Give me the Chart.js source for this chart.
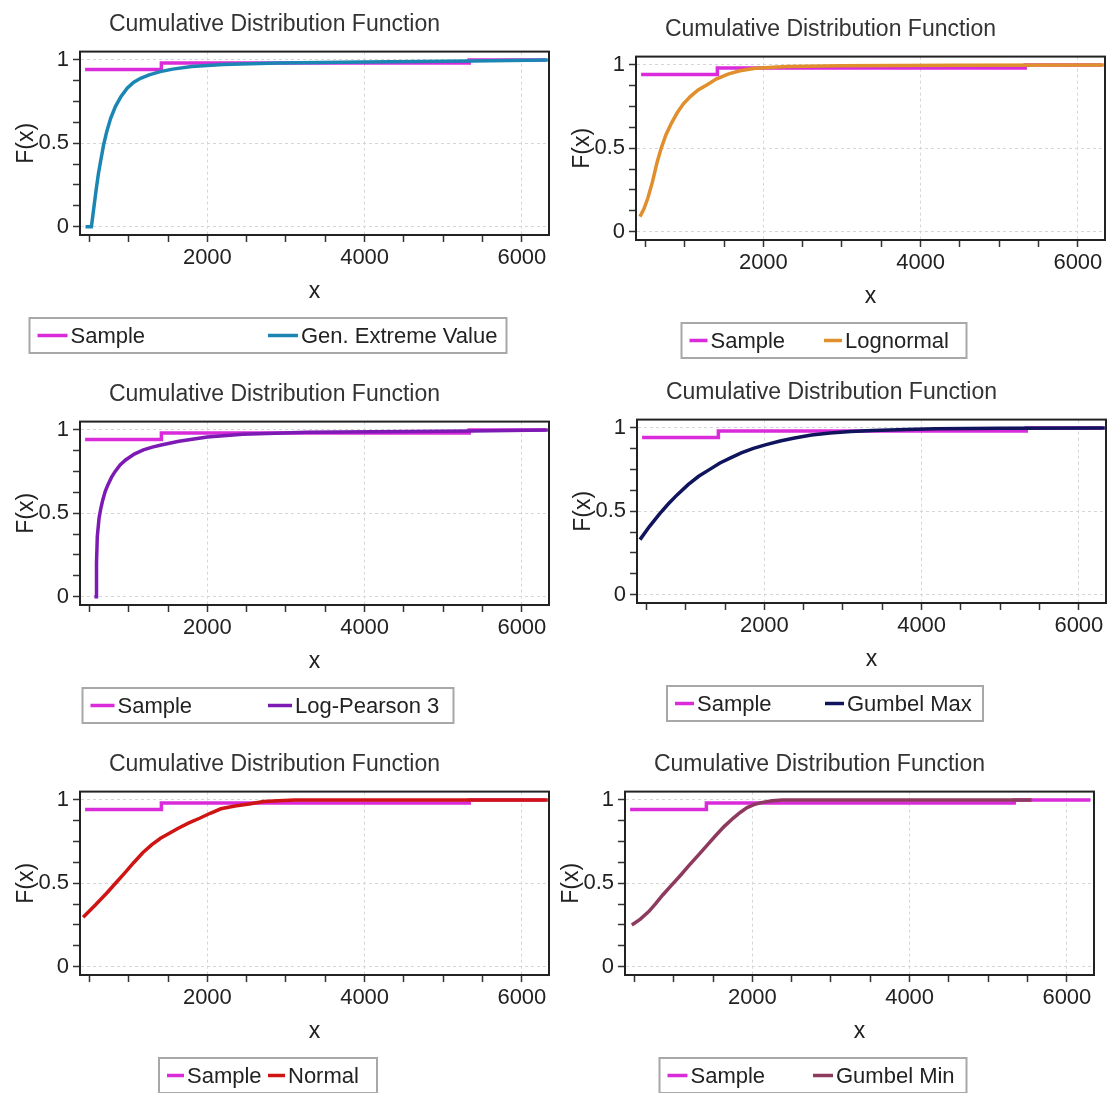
<!DOCTYPE html>
<html>
<head>
<meta charset="utf-8">
<script src="https://cdn.jsdelivr.net/npm/chart.js@4.4.1/dist/chart.umd.min.js"></script>
<style>
    html, body { margin: 0; padding: 0; background: #fff; }
    body { position: relative; width: 1110px; height: 1093px; overflow: hidden; }
    canvas.panel { position: absolute; }
</style>
</head>
<body>
<canvas id="gevChart" class="panel" width="552" height="360" style="left:0px;top:0px"></canvas>
<canvas id="lognormalChart" class="panel" width="552" height="360" style="left:556px;top:5px"></canvas>
<canvas id="lp3Chart" class="panel" width="552" height="360" style="left:0px;top:370px"></canvas>
<canvas id="gumbelMaxChart" class="panel" width="552" height="360" style="left:557px;top:368px"></canvas>
<canvas id="normalChart" class="panel" width="552" height="360" style="left:0px;top:740px"></canvas>
<canvas id="gumbelMinChart" class="panel" width="552" height="360" style="left:545px;top:740px"></canvas>
<script>
// Sample (empirical) CDF - step points
const sampleX = [445, 1415, 5330, 6300];
const sampleY = [0.942, 0.982, 1.0, 1.0];

// Fitted CDFs
const gevX = [450, 525, 555, 585, 615, 645, 680, 720, 770, 830, 900, 980, 1060, 1150, 1260, 1400, 1560, 1800, 2200, 2900, 4000, 5350, 6330];
const gevY = [0, 0, 0.11, 0.22, 0.32, 0.40, 0.49, 0.57, 0.65, 0.72, 0.78, 0.83, 0.865, 0.89, 0.91, 0.93, 0.945, 0.96, 0.972, 0.982, 0.988, 0.993, 1.0];

const lognormalX = [430, 480, 530, 590, 645, 700, 760, 830, 900, 980, 1070, 1170, 1280, 1400, 1550, 1700, 1900, 2300, 3000, 4500, 6330];
const lognormalY = [0.09, 0.135, 0.20, 0.30, 0.41, 0.50, 0.58, 0.65, 0.71, 0.765, 0.81, 0.85, 0.88, 0.915, 0.945, 0.965, 0.98, 0.99, 0.995, 0.998, 1.0];

const lp3X = [563, 585, 590, 600, 622, 645, 667, 700, 734, 780, 825, 890, 960, 1070, 1186, 1300, 1412, 1638, 2000, 2450, 3270, 5350, 6330];
const lp3Y = [0, 0, 0.2, 0.36, 0.47, 0.53, 0.575, 0.63, 0.67, 0.715, 0.75, 0.79, 0.82, 0.855, 0.88, 0.897, 0.91, 0.932, 0.958, 0.974, 0.986, 0.994, 1.0];

const gumbelMaxX = [418, 540, 667, 780, 893, 1030, 1164, 1300, 1435, 1570, 1706, 1860, 2023, 2200, 2384, 2600, 2836, 3100, 3379, 3800, 4180, 5000, 6330];
const gumbelMaxY = [0.33, 0.41, 0.485, 0.545, 0.60, 0.66, 0.71, 0.75, 0.79, 0.82, 0.85, 0.877, 0.90, 0.922, 0.94, 0.957, 0.97, 0.978, 0.985, 0.991, 0.995, 0.998, 1.0];

const normalX = [420, 575, 727, 840, 953, 1065, 1178, 1290, 1404, 1517, 1630, 1765, 1901, 2036, 2172, 2350, 2533, 2713, 2900, 3120, 6330];
const normalY = [0.297, 0.37, 0.445, 0.505, 0.564, 0.625, 0.683, 0.73, 0.77, 0.80, 0.83, 0.862, 0.89, 0.92, 0.947, 0.964, 0.976, 0.99, 0.995, 1.0, 1.0];

const gumbelMinX = [467, 575, 682, 770, 860, 970, 1084, 1195, 1307, 1420, 1531, 1640, 1754, 1845, 1933, 2020, 2112, 2250, 2380, 5550];
const gumbelMinY = [0.25, 0.285, 0.33, 0.378, 0.43, 0.488, 0.547, 0.607, 0.666, 0.726, 0.785, 0.84, 0.89, 0.925, 0.954, 0.972, 0.984, 0.995, 1.0, 1.0];

// Axis ticks (minor every 500 / 0.125, labels on the major ones)
const xTicks = [500, 1000, 1500, 2000, 2500, 3000, 3500, 4000, 4500, 5000, 5500, 6000];
const xLabelled = [2000, 4000, 6000];
const yTicks = [0, 0.125, 0.25, 0.375, 0.5, 0.625, 0.75, 0.875, 1];
const yLabelled = [0, 0.5, 1];

const FONT = "'Liberation Sans', Arial, sans-serif";
const SAMPLE_COLOR = '#d92bd9';

const panels = [
    { id: 'gevChart', name: 'Gen. Extreme Value', xs: gevX, ys: gevY, color: '#1b86b4', legendWidth: 477, swatch: 30 },
    { id: 'lognormalChart', name: 'Lognormal', xs: lognormalX, ys: lognormalY, color: '#e08f2c', legendWidth: 285, swatch: 18 },
    { id: 'lp3Chart', name: 'Log-Pearson 3', xs: lp3X, ys: lp3Y, color: '#7d1ab4', legendWidth: 371, swatch: 24 },
    { id: 'gumbelMaxChart', name: 'Gumbel Max', xs: gumbelMaxX, ys: gumbelMaxY, color: '#10145c', legendWidth: 316, swatch: 19 },
    { id: 'normalChart', name: 'Normal', xs: normalX, ys: normalY, color: '#cf1414', legendWidth: 218, swatch: 17 },
    { id: 'gumbelMinChart', name: 'Gumbel Min', xs: gumbelMinX, ys: gumbelMinY, color: '#8e3a5e', legendWidth: 307, swatch: 20 }
];

function points(xs, ys) {
    return xs.map((x, i) => ({ x: x, y: ys[i] }));
}

// full box around the plot area
const frame = {
    id: 'frame',
    afterDraw(chart) {
        const { ctx, chartArea: a } = chart;
        ctx.save();
        ctx.strokeStyle = '#222';
        ctx.lineWidth = 2;
        ctx.strokeRect(a.left, a.top, a.right - a.left, a.bottom - a.top);
        ctx.restore();
    }
};

// boxed legend with equal columns, under the x title
const boxLegend = {
    id: 'boxLegend',
    afterDraw(chart, args, opts) {
        const ctx = chart.ctx;
        const h = 35;
        const top = chart.scales.x.bottom + 13;
        const left = opts.center - opts.width / 2;
        const sets = chart.data.datasets;
        const col = (opts.width - 16) / sets.length;
        ctx.save();
        ctx.strokeStyle = '#a8a8a8';
        ctx.lineWidth = 2;
        ctx.strokeRect(left, top, opts.width, h);
        ctx.font = '22px ' + FONT;
        ctx.textBaseline = 'middle';
        ctx.textAlign = 'left';
        sets.forEach((ds, i) => {
            const x = left + 8 + i * col;
            const y = top + h / 2;
            ctx.strokeStyle = ds.borderColor;
            ctx.lineWidth = 3.5;
            ctx.beginPath();
            ctx.moveTo(x, y);
            ctx.lineTo(x + opts.swatch, y);
            ctx.stroke();
            ctx.fillStyle = '#222';
            ctx.fillText(ds.label, x + opts.swatch + 3, y + 1);
        });
        ctx.restore();
    }
};

Chart.defaults.font.family = FONT;
Chart.defaults.color = '#222';

panels.forEach(p => {
    new Chart(document.getElementById(p.id).getContext('2d'), {
        type: 'line',
        data: {
            datasets: [
                { label: 'Sample', data: points(sampleX, sampleY), borderColor: SAMPLE_COLOR, stepped: 'before', order: 2 },
                { label: p.name, data: points(p.xs, p.ys), borderColor: p.color, order: 1 }
            ]
        },
        options: {
            responsive: false,
            animation: false,
            layout: { padding: { left: 0, right: 3, top: 0, bottom: 55 } },
            elements: {
                point: { radius: 0 },
                line: { borderWidth: 3.5, tension: 0, fill: false }
            },
            plugins: {
                legend: { display: false },
                tooltip: { enabled: false },
                title: {
                    display: true,
                    text: 'Cumulative Distribution Function',
                    color: '#333',
                    font: { size: 23, weight: 'normal' },
                    padding: { top: 11, bottom: 13 }
                },
                boxLegend: { center: 268, width: p.legendWidth, swatch: p.swatch }
            },
            scales: {
                x: {
                    type: 'linear',
                    min: 380,
                    max: 6345,
                    afterBuildTicks: axis => { axis.ticks = xTicks.map(v => ({ value: v })); },
                    afterFit: axis => { axis.height = 70; },
                    ticks: {
                        autoSkip: false,
                        maxRotation: 0,
                        padding: 3,
                        font: { size: 22 },
                        callback: v => xLabelled.includes(v) ? String(v) : ''
                    },
                    grid: {
                        color: c => c.tick && xLabelled.includes(c.tick.value) ? '#d6d6d6' : 'transparent',
                        tickColor: '#333',
                        tickLength: 7,
                        tickWidth: 1.5
                    },
                    border: { color: '#222', width: 2, dash: [3, 3] },
                    title: { display: true, text: 'x', font: { size: 23 }, padding: { top: 0, bottom: 0 } }
                },
                y: {
                    min: -0.05,
                    max: 1.05,
                    afterBuildTicks: axis => { axis.ticks = yTicks.map(v => ({ value: v })); },
                    afterFit: axis => { axis.width = 80; },
                    ticks: {
                        autoSkip: false,
                        padding: 4,
                        font: { size: 22 },
                        callback: v => yLabelled.includes(v) ? String(v) : ''
                    },
                    grid: {
                        color: c => c.tick && yLabelled.includes(c.tick.value) ? '#d6d6d6' : 'transparent',
                        tickColor: '#333',
                        tickLength: 7,
                        tickWidth: 1.5
                    },
                    border: { color: '#222', width: 2, dash: [3, 3] },
                    title: { display: true, text: 'F(x)', font: { size: 23 }, padding: { top: 13, bottom: 0 } }
                }
            }
        },
        plugins: [frame, boxLegend]
    });
});
</script>
</body>
</html>
